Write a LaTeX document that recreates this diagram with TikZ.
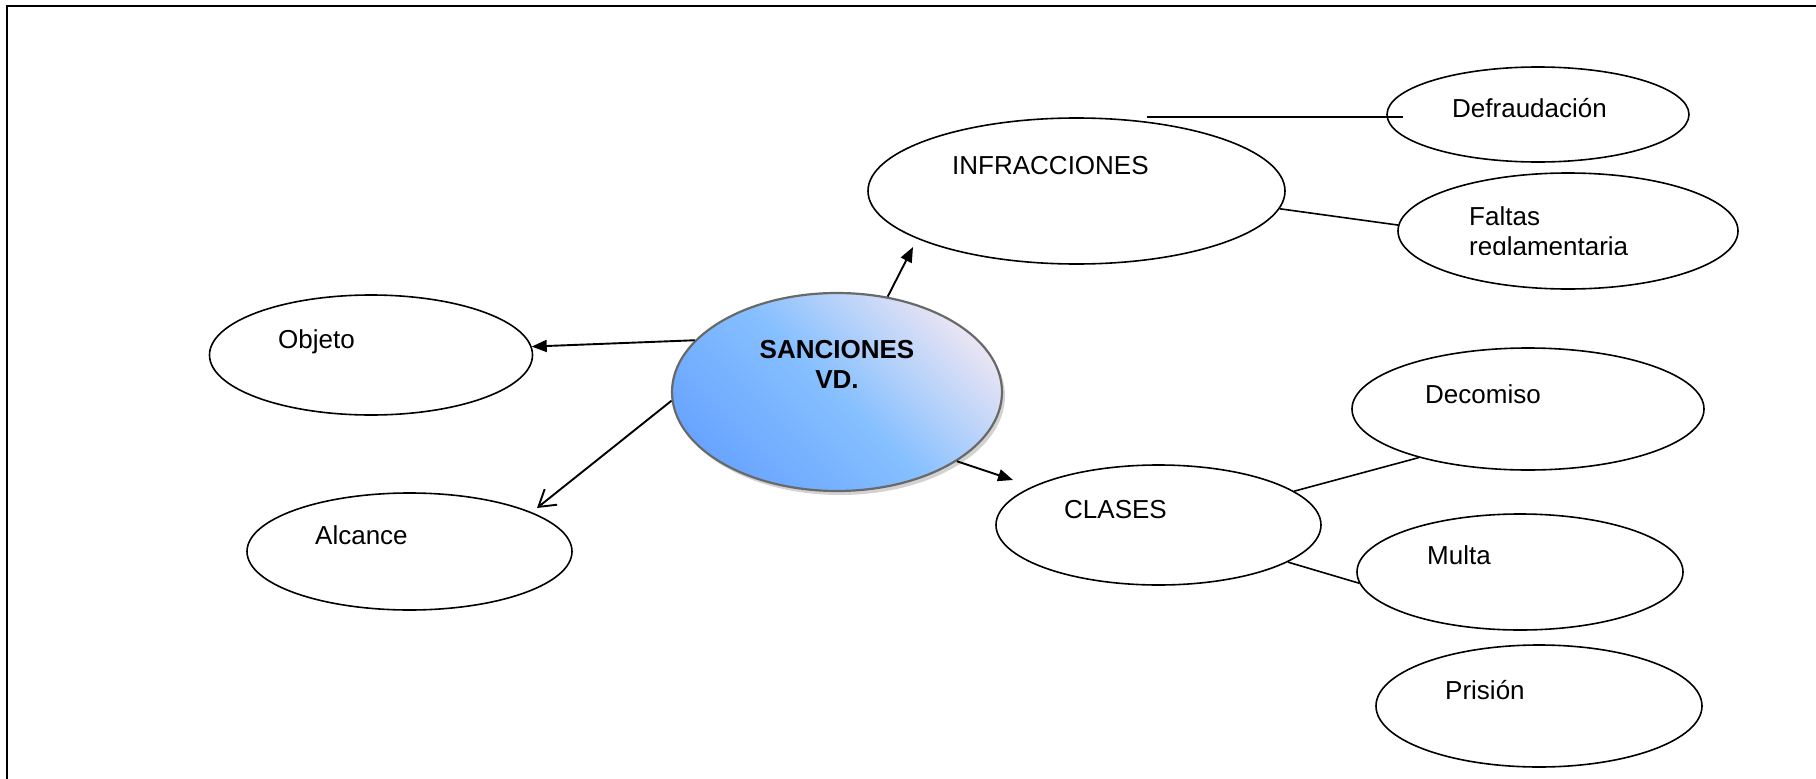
\documentclass[tikz,border=0pt]{standalone}
\usepackage{fontspec}
\setmainfont{Liberation Sans}
\usetikzlibrary{arrows.meta,shapes.geometric,shadows}

\definecolor{sancBlue}{RGB}{105,165,255}
\definecolor{sancMid}{RGB}{135,192,255}
\definecolor{sancLav}{RGB}{232,228,244}
\definecolor{sancGray}{RGB}{105,105,105}

\begin{document}
\begin{tikzpicture}[x=1pt,y=-1pt,
	elip/.style={draw, ellipse, line width=1.6pt, inner sep=0pt},
	txt/.style={anchor=base west, inner sep=0pt, font=\fontsize{26}{30}\selectfont},
	flecha/.style={line width=1.9pt, -{Triangle[length=15pt,width=12pt]}},
	linea/.style={line width=1.6pt}]
	\useasboundingbox (0,0) rectangle (1816,779);
	% marco
	\draw [line width=2.2pt] (7,779) -- (7,6) -- (1816,6);
	% centro
	\node (sanc) [ellipse, draw=sancGray, line width=2.2pt, minimum width=330pt, minimum height=198pt,
		top color=sancLav, bottom color=sancBlue, middle color=sancMid, shading angle=-45,
		drop shadow={shadow xshift=3pt, shadow yshift=-4pt, fill=black!35}] at (837,392) {};
	\node (sancT) [anchor=north, inner sep=0pt, align=center, font=\fontsize{26}{30}\bfseries\selectfont] at (837,340) {SANCIONES\\VD.};
	% elipses
	\node (obj) [elip, minimum width=323pt, minimum height=120pt] at (371,355) {};
	\node (alc) [elip, minimum width=325pt, minimum height=117pt] at (409.5,551.5) {};
	\node (infr) [elip, minimum width=417pt, minimum height=146pt] at (1076.5,191) {};
	\node (defr) [elip, minimum width=302pt, minimum height=95pt] at (1538,114.5) {};
	\node (falt) [elip, minimum width=340pt, minimum height=116pt] at (1568,231) {};
	\node (deco) [elip, minimum width=352pt, minimum height=122pt] at (1528,409) {};
	\node (clas) [elip, minimum width=325pt, minimum height=120pt] at (1158.5,525) {};
	\node (mult) [elip, minimum width=326pt, minimum height=116pt] at (1520,572) {};
	\node (pris) [elip, minimum width=326pt, minimum height=122pt] at (1539,706) {};
	% textos
	\node (objT) [txt] at (278,348) {Objeto};
	\node (alcT) [txt] at (315,544) {Alcance};
	\node (infrT) [txt] at (952,174) {INFRACCIONES};
	\node (defrT) [txt] at (1452,117) {Defraudación};
	\node (faltT) [txt] at (1469,225) {Faltas};
	\begin{scope}
		\clip (1400,150) rectangle (1740,254);
		\node (reglT) [txt] at (1469,255) {reglamentaria};
	\end{scope}
	\node (decoT) [txt] at (1425,403) {Decomiso};
	\node (clasT) [txt] at (1064,518) {CLASES};
	\node (multT) [txt] at (1427,564) {Multa};
	\node (prisT) [txt] at (1445,699) {Prisión};
	% flechas
	\coordinate (tipI) at (913,247);
	\coordinate (tipA) at (537,508);
	\coordinate (tipC) at (1013,480);
	\draw [flecha] (sanc.62) -- (tipI);
	\draw [flecha] (sanc.160.5) -- (obj.3.5);
	\draw [line width=1.9pt, -{Straight Barb[length=16pt,width=20pt]}] (sanc.183) -- (tipA);
	\draw [flecha] (sanc.-30) -- (tipC);
	% lineas
	\draw [linea] ([xshift=70pt]infr.north) -- ++(256,0);
	\draw [linea] (infr.-5) -- (falt.178);
	\draw [linea] (clas.14) -- (deco.204);
	\draw [linea] (clas.-16) -- (mult.184);
\end{tikzpicture}
\end{document}
